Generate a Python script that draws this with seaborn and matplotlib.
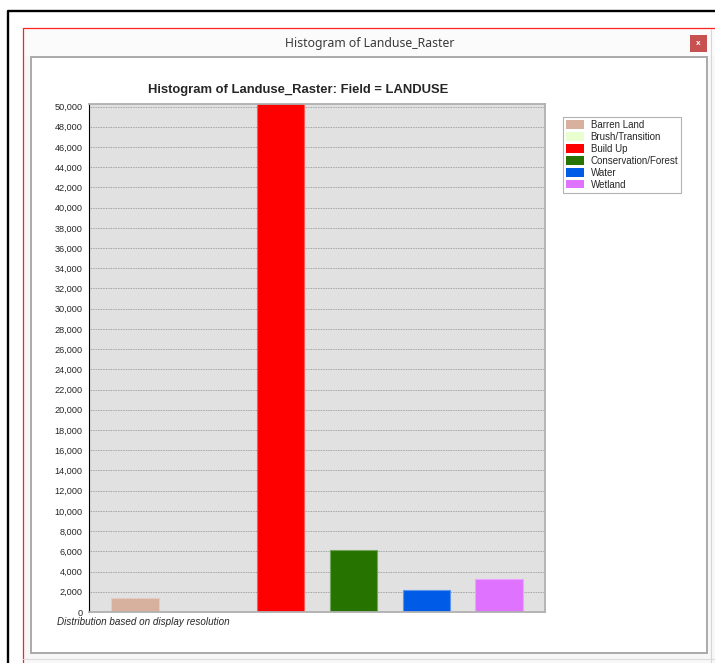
# =========================================================
# LANDUSE RASTER HISTOGRAM (ArcGIS style window)
# =========================================================

import matplotlib
matplotlib.use("Agg")

import matplotlib.pyplot as plt
import matplotlib.colors as mcolors
from matplotlib.patches import Rectangle, Patch
from matplotlib.lines import Line2D
from matplotlib.ticker import FuncFormatter
import seaborn as sns
import numpy as np

# ---------------------------------------------------------
# data
# ---------------------------------------------------------

categories = [
    "Barren Land",
    "Brush/Transition",
    "Build Up",
    "Conservation/Forest",
    "Water",
    "Wetland"
]

# pixel counts (Build Up runs off the top)
counts = [1400, 0, 53000, 6100, 2200, 3250]

colors = [
    "#d7b09e",
    "#e9ffcf",
    "#ff0000",
    "#267300",
    "#005ce6",
    "#df73ff"
]

y_max = 50000
y_step = 2000

# ---------------------------------------------------------
# figure + window frame
# ---------------------------------------------------------

sns.set_style("white")
plt.rcParams["font.family"] = ["Liberation Sans", "DejaVu Sans"]

W, H = 715, 663
fig = plt.figure(figsize=(W / 100, H / 100), dpi=100)
fig.patch.set_facecolor("white")


def fx(x):
    return x / W


def fy(y):
    return 1 - y / H


def box(x0, y0, x1, y1, **kw):
    fig.patches.append(
        Rectangle(
            (fx(x0), fy(y1)),
            fx(x1) - fx(x0),
            fy(y0) - fy(y1),
            transform=fig.transFigure,
            figure=fig,
            zorder=-10,
            **kw
        )
    )


def line(xs, ys, **kw):
    fig.lines.append(
        Line2D(
            [fx(v) for v in xs],
            [fy(v) for v in ys],
            transform=fig.transFigure,
            figure=fig,
            zorder=-5,
            **kw
        )
    )


# outer black frame
line([8, 8, W + 5], [H + 5, 11, 11], color="black", lw=1.7)

# dialog window
box(23, 28, W + 5, H + 5, facecolor="#f7f7f7", edgecolor="none")
line([23, 23, W + 5], [H + 5, 28, 28], color="#ff2020", lw=0.9)
box(24, 29, W + 5, 56, facecolor="#fbfbfb", edgecolor="none")
line([711, 711], [29, H + 5], color="#d6d6d6", lw=0.8)
line([23, W + 5], [659, 659], color="#dcdcdc", lw=0.8)

# close button
box(690, 35, 707, 52, facecolor="#c75050", edgecolor="none")
fig.text(fx(698.5), fy(43.5), "x", color="white", fontsize=6,
         ha="center", va="center", fontweight="bold")

fig.text(fx(370), fy(43), "Histogram of Landuse_Raster",
         family=["Noto Sans", "DejaVu Sans"], fontsize=8.8,
         color="#3a3a3a", ha="center", va="center")

# inner white panel
box(31, 57, 707, 653, facecolor="white", edgecolor="#aaaaaa", lw=1.4)

# ---------------------------------------------------------
# chart
# ---------------------------------------------------------

ax = fig.add_axes([fx(89), fy(612), fx(545) - fx(89), fy(104) - fy(612)])
ax.set_zorder(5)
ax.set_facecolor("#e1e1e1")

sns.barplot(
    x=categories,
    y=counts,
    hue=categories,
    palette=colors,
    width=0.65,
    saturation=1,
    legend=False,
    ax=ax
)

# lighter outline on every bar
for bar, c in zip(ax.patches, colors):
    rgb = np.array(mcolors.to_rgb(c))
    bar.set_edgecolor(rgb + (1 - rgb) * 0.35)
    bar.set_linewidth(0.8)

ax.set_xlim(-0.63, 5.63)
ax.set_ylim(0, y_max + 250)

ax.set_yticks(np.arange(0, y_max + 1, y_step))
ax.yaxis.set_major_formatter(FuncFormatter(lambda v, p: f"{v:,.0f}"))

ax.set_xticks([])
ax.set_xlabel("")
ax.set_ylabel("")

ax.tick_params(axis="y", direction="out", length=3, width=0.7,
               color="black", labelsize=6.6, pad=1.5)

ax.set_axisbelow(True)
ax.yaxis.grid(True, linestyle=(0, (1, 1)), color="#8f8f8f", lw=0.6)

ax.spines["left"].set_color("black")
ax.spines["left"].set_linewidth(0.8)
for s in ["top", "right", "bottom"]:
    ax.spines[s].set_color("#b0b0b0")
    ax.spines[s].set_linewidth(1.3)

fig.text(fx(298), fy(90), "Histogram of Landuse_Raster: Field = LANDUSE",
         fontsize=9.4, fontweight="bold", ha="center", va="center")

fig.text(fx(57), fy(622), "Distribution based on display resolution",
         fontsize=7.1, style="italic", ha="left", va="center")

# ---------------------------------------------------------
# legend
# ---------------------------------------------------------

handles = [
    Patch(facecolor=c, edgecolor="none", label=name)
    for name, c in zip(categories, colors)
]

leg = fig.legend(
    handles=handles,
    loc="upper left",
    bbox_to_anchor=(fx(563), fy(117)),
    bbox_transform=fig.transFigure,
    fontsize=7.0,
    frameon=True,
    fancybox=False,
    shadow=False,
    borderaxespad=0,
    borderpad=0.3,
    handlelength=1.85,
    handleheight=0.95,
    handletextpad=0.7,
    labelspacing=0.2
)
leg.set_zorder(6)
leg.get_frame().set_edgecolor("#a0a0a0")
leg.get_frame().set_linewidth(0.8)

fig.savefig("out.png", dpi=100)
plt.close(fig)
